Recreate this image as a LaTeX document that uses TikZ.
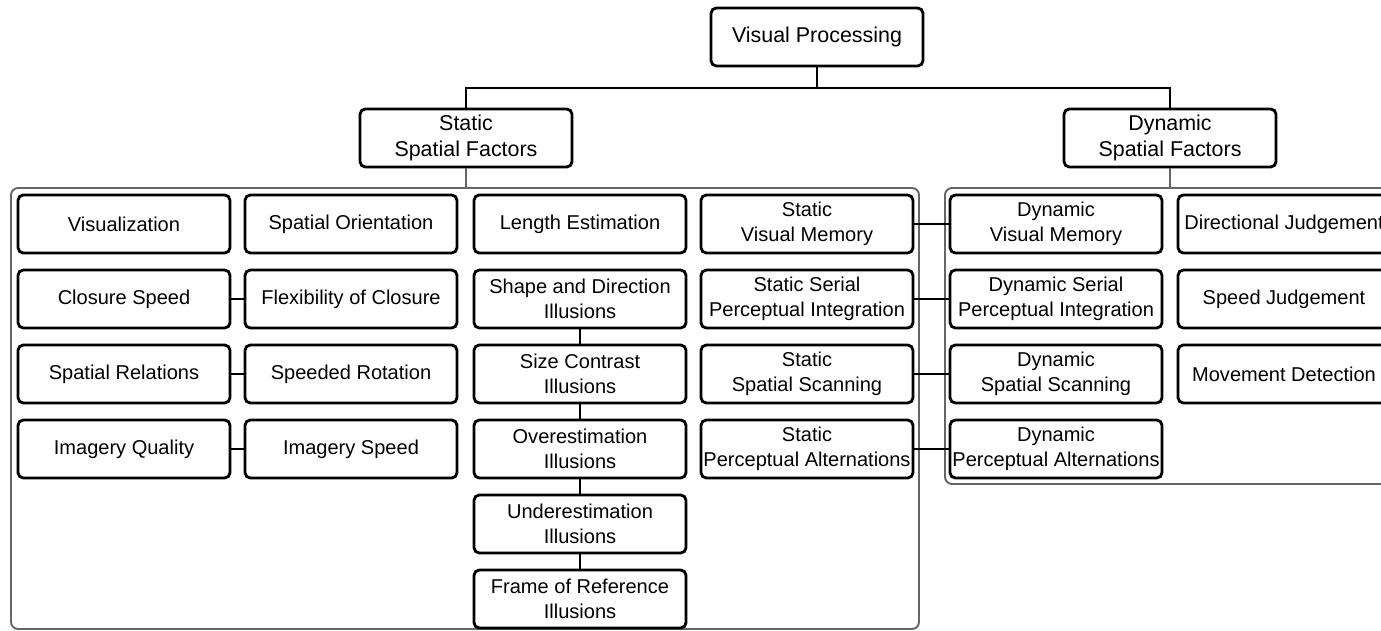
\documentclass[tikz,border=0pt]{standalone}
\usepackage{fontspec}
\setmainfont{Liberation Sans}
\usepackage{tikz}

\begin{document}
\begin{tikzpicture}[x=0.02cm, y=-0.02cm,
    box/.style={rectangle, draw, rounded corners=3pt, line width=1.6pt, minimum width=4.24cm, minimum height=1.16cm, inner sep=1pt, align=center, font=\fontsize{11.4}{14}\selectfont},
    head/.style={box, font=\fontsize{12.2}{14.5}\selectfont},
    group/.style={draw=black!60, line width=1.1pt, rounded corners=4pt},
    link/.style={line width=1.4pt}]
    \useasboundingbox (0,0) rectangle (1381,631);
    \clip (0,0) rectangle (1381,631);
    % top levels
    \node[head] (VP) at (817,37) {Visual Processing};
    \node[head] (SSF) at (466,138) {Static\\Spatial Factors};
    \node[head] (DSF) at (1170,138) {Dynamic\\Spatial Factors};
    \coordinate (fork) at (817,88);
    \draw[link] (VP.south) -- (fork);
    \draw[link] (SSF.north) |- (fork) -| (DSF.north);
    % groups
    \draw[group] (11,188) rectangle (919,629);
    \draw[group] (945,188) rectangle (1400,484);
    \coordinate (Lgrp) at (466,188);
    \coordinate (Rgrp) at (1170,188);
    \draw[group] (SSF.south) -- (Lgrp);
    \draw[group] (DSF.south) -- (Rgrp);
    % row 1
    \node[box] (vis) at (124,224) {Visualization};
    \node[box] (sor) at (351,224) {Spatial Orientation};
    \node[box] (len) at (580,224) {Length Estimation};
    \node[box] (svm) at (807,224) {Static\\Visual Memory};
    \node[box] (dvm) at (1056,224) {Dynamic\\Visual Memory};
    \node[box] (dir) at (1284,224) {Directional Judgement};
    % row 2
    \node[box] (csp) at (124,299) {Closure Speed};
    \node[box] (flx) at (351,299) {Flexibility of Closure};
    \node[box] (sdi) at (580,299) {Shape and Direction\\Illusions};
    \node[box] (ssp) at (807,299) {Static Serial\\Perceptual Integration};
    \node[box] (dsp) at (1056,299) {Dynamic Serial\\Perceptual Integration};
    \node[box] (spj) at (1284,299) {Speed Judgement};
    % row 3
    \node[box] (srel) at (124,374) {Spatial Relations};
    \node[box] (srot) at (351,374) {Speeded Rotation};
    \node[box] (sci) at (580,374) {Size Contrast\\Illusions};
    \node[box] (sss) at (807,374) {Static\\Spatial Scanning};
    \node[box] (dss) at (1056,374) {Dynamic\\Spatial Scanning};
    \node[box] (mov) at (1284,374) {Movement Detection};
    % row 4
    \node[box] (iq) at (124,449) {Imagery Quality};
    \node[box] (isp) at (351,449) {Imagery Speed};
    \node[box] (ovi) at (580,449) {Overestimation\\Illusions};
    \node[box] (spa) at (807,449) {Static\\Perceptual Alternations};
    \node[box] (dpa) at (1056,449) {Dynamic\\Perceptual Alternations};
    % rows 5 and 6
    \node[box] (uni) at (580,524) {Underestimation\\Illusions};
    \node[box] (fri) at (580,599) {Frame of Reference\\Illusions};
    % links
    \draw[link] (csp) -- (flx);
    \draw[link] (srel) -- (srot);
    \draw[link] (iq) -- (isp);
    \draw[link] (sdi) -- (sci) -- (ovi) -- (uni) -- (fri);
    \draw[link] (svm) -- (dvm);
    \draw[link] (ssp) -- (dsp);
    \draw[link] (sss) -- (dss);
    \draw[link] (spa) -- (dpa);
\end{tikzpicture}
\end{document}
